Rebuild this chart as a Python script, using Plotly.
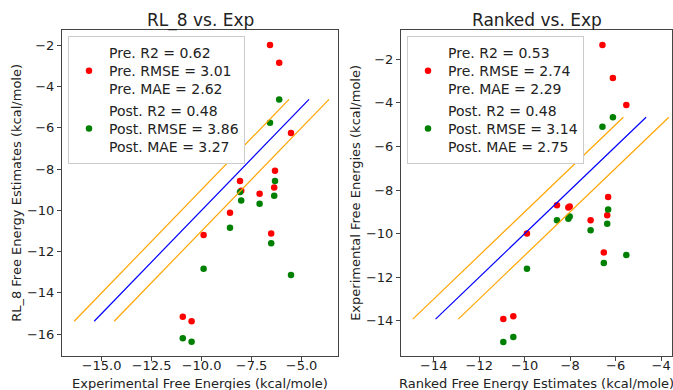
import plotly.graph_objects as go

# Experimental free energies (kcal/mole)
exp_vals = [-10.94, -10.5, -9.9, -8.58, -8.08, -8.02, -7.1, -6.58, -6.52, -6.37, -6.33, -6.12, -5.53]

# RL_8 estimates
rl8_pre = [-15.15, -15.37, -11.2, -10.12, -8.58, -9.05, -9.2, -2.0, -11.12, -8.89, -8.08, -2.86, -6.26]
rl8_post = [-16.2, -16.36, -12.83, -10.84, -9.11, -9.52, -9.68, -5.76, -11.6, -9.29, -8.58, -4.63, -13.13]

# Ranked estimates
ranked_pre = [-13.92, -13.79, -9.99, -8.7, -8.8, -8.75, -9.39, -1.34, -10.86, -9.15, -8.32, -2.86, -4.1]
ranked_post = [-14.97, -14.74, -11.61, -9.39, -9.32, -9.21, -9.84, -5.09, -11.35, -9.55, -8.89, -4.66, -10.98]

rl8_pre_label = "Pre. R2 = 0.62<br>Pre. RMSE = 3.01<br>Pre. MAE = 2.62"
rl8_post_label = "Post. R2 = 0.48<br>Post. RMSE = 3.86<br>Post. MAE = 3.27"
ranked_pre_label = "Pre. R2 = 0.53<br>Pre. RMSE = 2.74<br>Pre. MAE = 2.29"
ranked_post_label = "Post. R2 = 0.48<br>Post. RMSE = 3.14<br>Post. MAE = 2.75"

titles = ["RL_8 vs. Exp", "Ranked vs. Exp"]
x_titles = ["Experimental Free Energies (kcal/mole)", "Ranked Free Energy Estimates (kcal/mole)"]
y_titles = ["RL_8 Free Energy Estimates (kcal/mole)", "Experimental Free Energies (kcal/mole)"]

offset = 1.0
FONT = "DejaVu Sans"
TXT = "#222222"
W, H = 673, 390
FS = 13

fig = go.Figure()

def add_panel(xa, ya, legend, pre, post, pre_label, post_label):
    fig.add_trace(go.Scatter(x=exp_vals, y=pre, mode="markers", name=pre_label,
                             marker=dict(color="red", size=6.5), xaxis=xa, yaxis=ya, legend=legend))
    fig.add_trace(go.Scatter(x=exp_vals, y=post, mode="markers", name=post_label,
                             marker=dict(color="green", size=6.5), xaxis=xa, yaxis=ya, legend=legend))
    lo, hi = min(pre), max(post)
    fig.add_trace(go.Scatter(x=[lo - offset, hi - offset], y=[lo, hi], mode="lines",
                             line=dict(color="orange", width=1.2), showlegend=False, xaxis=xa, yaxis=ya))
    fig.add_trace(go.Scatter(x=[lo, hi], y=[lo, hi], mode="lines",
                             line=dict(color="blue", width=1.2), showlegend=False, xaxis=xa, yaxis=ya))
    fig.add_trace(go.Scatter(x=[lo + offset, hi + offset], y=[lo, hi], mode="lines",
                             line=dict(color="orange", width=1.2), showlegend=False, xaxis=xa, yaxis=ya))

add_panel("x", "y", "legend", rl8_pre, rl8_post, rl8_pre_label, rl8_post_label)
add_panel("x2", "y2", "legend2", ranked_pre, ranked_post, ranked_pre_label, ranked_post_label)

ydom = [1 - 355.7 / H, 1 - 30 / H]
axis_common = dict(showgrid=False, zeroline=False, showline=True, mirror=True,
                   linecolor="#444444", linewidth=1, ticks="outside", ticklen=4,
                   tickcolor="#444444", tickfont=dict(size=FS, color=TXT, family=FONT))

legend_common = dict(font=dict(size=14, color=TXT, family=FONT), bgcolor="white",
                     bordercolor="#cccccc", borderwidth=1, xanchor="left", yanchor="top",
                     valign="middle", tracegroupgap=0)

def px_x(p):
    return p / W

def px_y(p):
    return 1 - p / H

annotations = []
panels = [(62, 338), (401, 672)]
ytitle_x = [17, 356]
for i, (l, r) in enumerate(panels):
    cx = (l + r) / 2
    annotations.append(dict(text=titles[i], x=px_x(cx), y=px_y(20), xref="paper", yref="paper",
                            showarrow=False, font=dict(size=17, family=FONT, color=TXT),
                            xanchor="center", yanchor="middle"))
    annotations.append(dict(text=x_titles[i], x=px_x(cx), y=px_y(383.5), xref="paper", yref="paper",
                            showarrow=False, font=dict(size=FS, family=FONT, color=TXT),
                            xanchor="center", yanchor="middle"))
    annotations.append(dict(text=y_titles[i], x=px_x(ytitle_x[i]), y=px_y((30 + 355.7) / 2),
                            xref="paper", yref="paper", textangle=-90,
                            showarrow=False, font=dict(size=FS, family=FONT, color=TXT),
                            xanchor="center", yanchor="middle"))

fig.update_layout(
    width=W, height=H, margin=dict(l=0, r=0, t=0, b=0),
    paper_bgcolor="white", plot_bgcolor="white",
    font=dict(family=FONT, color=TXT, size=FS),
    xaxis=dict(axis_common, domain=[62 / W, 338 / W], range=[-16.98, -3.18],
               tickvals=[-15, -12.5, -10, -7.5, -5], tickformat=".1f", ticklabelstandoff=-6),
    yaxis=dict(axis_common, domain=ydom, range=[-17.04, -1.27], dtick=2),
    xaxis2=dict(axis_common, domain=[401 / W, 672 / W], range=[-15.44, -3.52], dtick=2,
                anchor="y2", ticklabelstandoff=-6),
    yaxis2=dict(axis_common, domain=ydom, range=[-15.6, -0.655], dtick=2, anchor="x2"),
    legend=dict(legend_common, x=68 / W, y=1 - 36 / H),
    legend2=dict(legend_common, x=407 / W, y=1 - 36 / H),
    annotations=annotations,
)

fig.write_html("out.html")
